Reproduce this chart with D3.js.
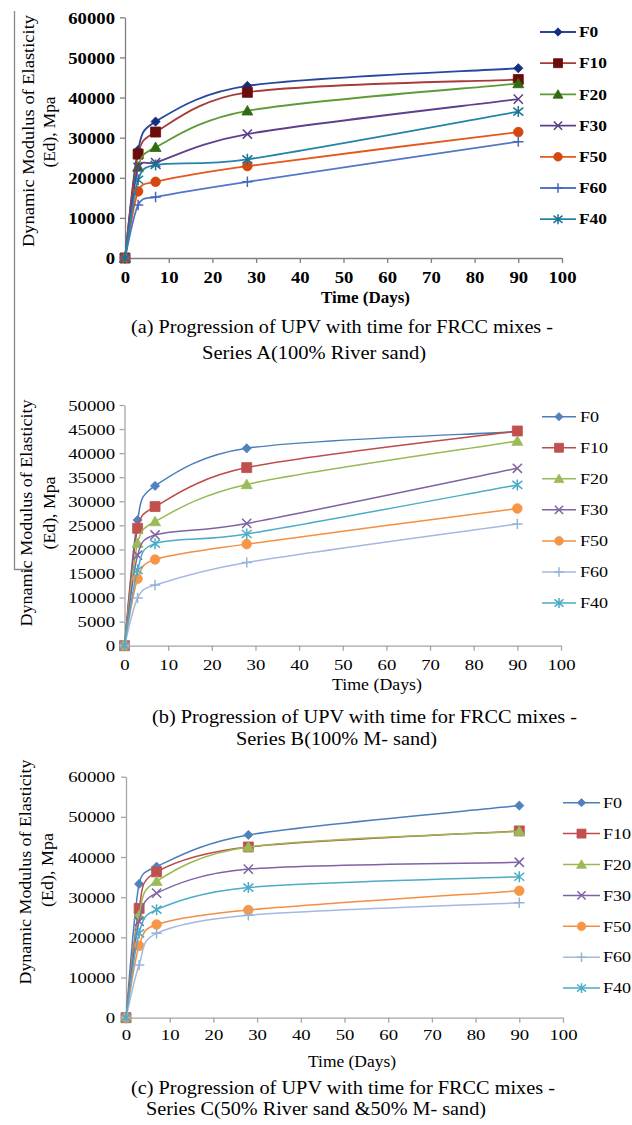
<!DOCTYPE html>
<html><head><meta charset="utf-8">
<script src="https://cdn.jsdelivr.net/npm/d3@7"></script>
<style>
body{margin:0;background:#fff}
svg{display:block}
svg text{font-family:"Liberation Serif","Times New Roman",serif !important}
</style>
</head><body>
<svg id="chart" width="632" height="1125"></svg>
<script>
// ---------------- DATA ----------------
const days = [0, 3, 7, 28, 90];
const seriesNames = ["F0", "F10", "F20", "F30", "F50", "F60", "F40"];
const xTickValues = [0, 10, 20, 30, 40, 50, 60, 70, 80, 90, 100];
const yTicksA = [0, 10000, 20000, 30000, 40000, 50000, 60000];
const yTicksB = [0, 5000, 10000, 15000, 20000, 25000, 30000, 35000, 40000, 45000, 50000];
const yTicksC = [0, 10000, 20000, 30000, 40000, 50000, 60000];

// Series A (100% River sand)
const A_F0  = [0, 26900, 34000, 42900, 47300];
const A_F10 = [0, 25900, 31400, 41300, 44500];
const A_F20 = [0, 22700, 27600, 36700, 43500];
const A_F30 = [0, 22600, 23800, 30900, 39600];
const A_F50 = [0, 16600, 19000, 22900, 31400];
const A_F60 = [0, 13200, 15200, 19000, 29000];
const A_F40 = [0, 19500, 23200, 24600, 36500];

// Series B (100% M-sand)
const B_F0  = [0, 26100, 33200, 41000, 44450];
const B_F10 = [0, 24400, 28900, 37000, 44600];
const B_F20 = [0, 21300, 25800, 33500, 42500];
const B_F30 = [0, 18800, 23000, 25400, 36850];
const B_F50 = [0, 13900, 17900, 21100, 28500];
const B_F60 = [0, 9900, 12600, 17300, 25300];
const B_F40 = [0, 15700, 21200, 23200, 33400];

// Series C (50% River sand & 50% M-sand)
const C_F0  = [0, 33300, 37600, 45500, 52800];
const C_F10 = [0, 27200, 36300, 42500, 46500];
const C_F20 = [0, 25500, 34000, 42500, 46400];
const C_F30 = [0, 24000, 31000, 37000, 38700];
const C_F50 = [0, 17900, 23200, 26800, 31600];
const C_F60 = [0, 13100, 21000, 25500, 28600];
const C_F40 = [0, 21000, 26900, 32400, 35100];

const yTitleLines = ["Dynamic Modulus of Elasticity", "(Ed), Mpa"];
const xTitleText = "Time (Days)";
const captionA = ["(a) Progression of UPV with time for FRCC mixes -", "Series A(100% River sand)"];
const captionB = ["(b) Progression of UPV with time for FRCC mixes -", "Series B(100% M- sand)"];
const captionC = ["(c) Progression of UPV with time for FRCC mixes -", "Series C(50% River sand &50% M- sand)"];

const markerTypes = ["diamond", "square", "triangle", "x", "circle", "plus", "star"];

// ---------------- STYLE / LAYOUT ----------------
const colorsA_line = ["#2A479E", "#A83A38", "#5E9A38", "#5C3F8E", "#E2581D", "#5476C4", "#2284A8"];
const colorsA_mark = ["#10307F", "#6B0B0B", "#2F6C12", "#5A3C8C", "#D4470F", "#4467BC", "#1B7394"];
const colorsB_line = ["#4A7EBB", "#BE4B48", "#98B954", "#7E63A2", "#F38F43", "#A3B9E0", "#4BACC6"];
const colorsB_mark = ["#4F81BD", "#C0504D", "#9BBB59", "#8064A2", "#F79646", "#95B3D7", "#4BACC6"];

const panels = [
  { series: [A_F0, A_F10, A_F20, A_F30, A_F50, A_F60, A_F40], yTicks: yTicksA, yMax: 60000,
    x0: 125, x1: 562, yTop: 17.3, yBot: 258, axisColor: "#7f7f7f", weight: "bold",
    tickFont: 17, tickSX: 1.1, xLabelOff: 19, yLabelGap: 10,
    lineColors: colorsA_line, markColors: colorsA_mark, lineW: 1.8,
    legend: { x0: 540, x1: 576, tx: 579, y0: 32, dy: 31.2, font: 15, sx: 1.16 },
    xTitle: { x: 365.5, y: 298, len: 89 },
    yTitle: [{ x: 28, y: 131, len: 232 }, { x: 49, y: 132, len: 71 }],
    caption: [{ x: 342, y: 333, len: 422 }, { x: 314, y: 359, len: 224 }], captionText: captionA },
  { series: [B_F0, B_F10, B_F20, B_F30, B_F50, B_F60, B_F40], yTicks: yTicksB, yMax: 50000,
    x0: 124.5, x1: 561, yTop: 405, yBot: 645.7, axisColor: "#a6a6a6", weight: "normal",
    tickFont: 15, tickSX: 1.25, xLabelOff: 19.3, yLabelGap: 9.5,
    lineColors: colorsB_line, markColors: colorsB_mark, lineW: 1.5,
    legend: { x0: 542, x1: 576, tx: 580, y0: 416.7, dy: 31.05, font: 15, sx: 1.2 },
    xTitle: { x: 377, y: 685, len: 90 },
    yTitle: [{ x: 26, y: 513, len: 227 }, { x: 48.5, y: 513, len: 73 }],
    caption: [{ x: 364.5, y: 723, len: 425 }, { x: 336.5, y: 745, len: 201 }], captionText: captionB },
  { series: [C_F0, C_F10, C_F20, C_F30, C_F50, C_F60, C_F40], yTicks: yTicksC, yMax: 60000,
    x0: 126, x1: 563, yTop: 776.7, yBot: 1017.7, axisColor: "#a6a6a6", weight: "normal",
    tickFont: 15, tickSX: 1.25, xLabelOff: 17.3, yLabelGap: 11,
    lineColors: colorsB_line, markColors: colorsB_mark, lineW: 1.5,
    legend: { x0: 563, x1: 600, tx: 603, y0: 802.7, dy: 30.9, font: 15, sx: 1.2 },
    xTitle: { x: 352, y: 1062, len: 88 },
    yTitle: [{ x: 25, y: 872, len: 225 }, { x: 46.5, y: 870, len: 74 }],
    caption: [{ x: 343, y: 1094, len: 424 }, { x: 316, y: 1115, len: 340 }], captionText: captionC }
];

const svg = d3.select("#chart");

// page artifact lines (left border)
svg.append("path").attr("d", "M14.5,11V569.5H33").attr("fill", "none")
  .attr("stroke", "#8a8a8a").attr("stroke-width", 1.3);

// Excel-like smoothed line through screen points (Bezier with clamped tangents)
function smoothPath(pts) {
  const n = pts.length;
  const p = d3.path();
  p.moveTo(pts[0][0], pts[0][1]);
  const arm = (i, segLen) => {
    const a = pts[Math.max(0, i - 1)], b = pts[Math.min(n - 1, i + 1)];
    let dx = (b[0] - a[0]) / 6, dy = (b[1] - a[1]) / 6;
    const len = Math.hypot(dx, dy);
    const maxLen = 0.5 * segLen;
    if (len > maxLen && len > 0) { dx *= maxLen / len; dy *= maxLen / len; }
    return [dx, dy];
  };
  for (let i = 0; i < n - 1; i++) {
    const P0 = pts[i], P1 = pts[i + 1];
    const seg = Math.hypot(P1[0] - P0[0], P1[1] - P0[1]);
    const a0 = arm(i, seg), a1 = arm(i + 1, seg);
    p.bezierCurveTo(P0[0] + a0[0], P0[1] + a0[1], P1[0] - a1[0], P1[1] - a1[1], P1[0], P1[1]);
  }
  return p.toString();
}

function drawMarker(g, type, cx, cy, s, fill, stroke) {
  let p;
  const filled = ["diamond", "square", "triangle", "circle"].includes(type);
  if (type === "circle") {
    g.append("circle").attr("cx", cx).attr("cy", cy).attr("r", s)
      .attr("fill", fill).attr("stroke", stroke).attr("stroke-width", 0.8);
    return;
  }
  if (type === "diamond") p = `M0,${-s}L${s},0L0,${s}L${-s},0Z`;
  else if (type === "square") p = `M${-s},${-s}H${s}V${s}H${-s}Z`;
  else if (type === "triangle") p = `M0,${-s * 1.05}L${s * 1.1},${s * 0.85}L${-s * 1.1},${s * 0.85}Z`;
  else if (type === "x") p = `M${-s},${-s}L${s},${s}M${-s},${s}L${s},${-s}`;
  else if (type === "plus") p = `M${-s},0H${s}M0,${-s}V${s}`;
  else if (type === "star") p = `M${-s},${-s * 0.8}L${s},${s * 0.8}M${-s},${s * 0.8}L${s},${-s * 0.8}M0,${-s * 1.1}V${s * 1.1}`;
  g.append("path").attr("d", p).attr("transform", `translate(${cx},${cy})`)
    .attr("fill", filled ? fill : "none").attr("stroke", stroke)
    .attr("stroke-width", filled ? 0.8 : 1.5);
}

const markerSize = { diamond: 4.6, square: 5, triangle: 5, x: 4.6, circle: 4.8, plus: 5.2, star: 5 };

panels.forEach(P => {
  const g = svg.append("g");
  const x = d3.scaleLinear().domain([0, 100]).range([P.x0, P.x1]);
  const y = d3.scaleLinear().domain([0, P.yMax]).range([P.yBot, P.yTop]);

  // Y axis
  const yAx = g.append("g").attr("transform", `translate(${P.x0},0)`)
    .call(d3.axisLeft(y).tickValues(P.yTicks).tickSize(5).tickSizeOuter(0).tickFormat(d3.format("d")));
  yAx.attr("font-family", null);
  yAx.selectAll("path,line").attr("stroke", P.axisColor).attr("stroke-width", 1.3);
  yAx.selectAll("text").attr("x", -P.yLabelGap / P.tickSX).attr("dy", "0.34em")
    .attr("transform", `scale(${P.tickSX},1)`)
    .attr("font-size", P.tickFont).attr("font-weight", P.weight).attr("fill", "#000");

  // X axis
  const xAx = g.append("g").attr("transform", `translate(0,${P.yBot})`)
    .call(d3.axisBottom(x).tickValues(xTickValues).tickSize(5).tickSizeOuter(0));
  xAx.attr("font-family", null);
  xAx.selectAll("path,line").attr("stroke", P.axisColor).attr("stroke-width", 1.3);
  xAx.selectAll("text").attr("y", P.xLabelOff).attr("dy", "0.34em")
    .attr("transform", `scale(${P.tickSX},1)`)
    .attr("font-size", P.tickFont).attr("font-weight", P.weight).attr("fill", "#000");

  // Series
  P.series.forEach((vals, si) => {
    const sg = g.append("g");
    const pts = vals.map((v, i) => [x(days[i]), y(v)]);
    sg.append("path").attr("d", smoothPath(pts)).attr("fill", "none")
      .attr("stroke", P.lineColors[si]).attr("stroke-width", P.lineW);
    const t = markerTypes[si];
    vals.forEach((v, i) => drawMarker(sg, t, x(days[i]), y(v), markerSize[t], P.markColors[si], P.markColors[si]));
  });

  // Legend
  const L = P.legend;
  seriesNames.forEach((name, si) => {
    const ly = L.y0 + si * L.dy;
    const lg = g.append("g");
    lg.append("line").attr("x1", L.x0).attr("x2", L.x1).attr("y1", ly).attr("y2", ly)
      .attr("stroke", P.lineColors[si]).attr("stroke-width", P.lineW);
    const t = markerTypes[si];
    drawMarker(lg, t, (L.x0 + L.x1) / 2, ly, markerSize[t] * 0.9, P.markColors[si], P.markColors[si]);
    lg.append("text").attr("x", L.tx / L.sx).attr("y", ly).attr("dy", "0.35em")
      .attr("transform", `scale(${L.sx},1)`)
      .attr("font-size", L.font).attr("font-weight", P.weight)
      .attr("fill", "#000").text(name);
  });

  // X title
  g.append("text").attr("x", P.xTitle.x).attr("y", P.xTitle.y).attr("dy", "0.33em")
    .attr("text-anchor", "middle").attr("font-size", 16)
    .attr("font-weight", P.weight).attr("textLength", P.xTitle.len).attr("lengthAdjust", "spacingAndGlyphs")
    .text(xTitleText);

  // Y title (two lines, rotated)
  P.yTitle.forEach((yt, k) => {
    g.append("text").attr("transform", `translate(${yt.x},${yt.y}) rotate(-90)`)
      .attr("dy", "0.35em").attr("text-anchor", "middle")
      .attr("font-size", 17.5).attr("textLength", yt.len).attr("lengthAdjust", "spacingAndGlyphs")
      .text(yTitleLines[k]);
  });

  // Caption
  P.caption.forEach((c, k) => {
    g.append("text").attr("x", c.x).attr("y", c.y).attr("text-anchor", "middle")
      .attr("font-size", 19).attr("textLength", c.len)
      .attr("lengthAdjust", "spacingAndGlyphs").text(P.captionText[k]);
  });
});
</script>
</body></html>
